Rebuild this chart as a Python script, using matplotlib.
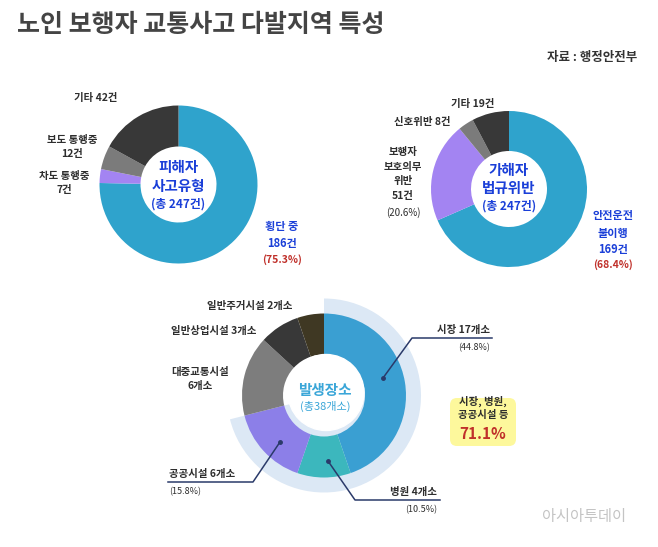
import matplotlib
matplotlib.use("Agg")
import matplotlib.pyplot as plt
from matplotlib.patches import Circle, FancyBboxPatch

plt.rcParams['font.family'] = ['Noto Sans CJK KR', 'DejaVu Sans']

W, H = 658, 547

# --- data ---
victim_labels = ['횡단 중', '차도 통행중', '보도 통행중', '기타']
victim_counts = [186, 7, 12, 42]

driver_labels = ['안전운전 불이행', '보행자 보호의무 위반', '신호위반', '기타']
driver_counts = [169, 51, 8, 19]

place_labels = ['시장', '병원', '공공시설', '대중교통시설', '일반상업시설', '일반주거시설']
place_counts = [17, 4, 6, 6, 3, 2]
place_pcts = [44.8, 10.5, 15.8]

victim_colors = ['#2fa3cc', '#a384f2', '#7b7b7b', '#383838']
driver_colors = ['#2fa3cc', '#a384f2', '#7b7b7b', '#383838']
place_colors = ['#3a9fd2', '#3cb7bd', '#8c7fe8', '#7d7d7d', '#383838', '#3f3823']

DARK = '#2e2e2e'
BLUE = '#1a3fd8'
RED = '#c0302a'
LINE = '#2a3a6a'


def Y(py):
    # pixel row -> data y (data y runs upward)
    return H - py


fig = plt.figure(figsize=(W / 100, H / 100), dpi=100)
ax = fig.add_axes([0, 0, 1, 1])

# title and source
ax.text(17, Y(25), '노인 보행자 교통사고 다발지역 특성', fontsize=18, weight='bold',
        color='#444444', ha='left', va='center')
ax.text(637, Y(58), '자료 : 행정안전부', fontsize=9, weight='bold',
        color='#333333', ha='right', va='center')

lab = dict(fontsize=7.5, weight='bold', color=DARK, ha='center', va='center')

# --- chart 1: victim accident type ---
c1 = (178.5, Y(184.5))
ax.pie(victim_counts, colors=victim_colors, startangle=90, counterclock=False,
       radius=79, center=c1, wedgeprops=dict(width=41, edgecolor='none'))
ax.text(c1[0], Y(167), '피해자', fontsize=10.5, weight='bold', color=BLUE,
        ha='center', va='center')
ax.text(c1[0], Y(186), '사고유형', fontsize=10.5, weight='bold', color=BLUE,
        ha='center', va='center')
ax.text(c1[0], Y(204), '(총 {}건)'.format(sum(victim_counts)), fontsize=8.5,
        weight='bold', color=BLUE, ha='center', va='center')

ax.text(96, Y(98), '기타 {}건'.format(victim_counts[3]), **lab)
ax.text(72, Y(147), '보도 통행중\n{}건'.format(victim_counts[2]), linespacing=1.5, **lab)
ax.text(64, Y(183), '차도 통행중\n{}건'.format(victim_counts[1]), linespacing=1.5, **lab)
ax.text(282, Y(235), '횡단 중\n{}건'.format(victim_counts[0]), fontsize=8,
        weight='bold', color=BLUE, ha='center', va='center', linespacing=1.4)
ax.text(282, Y(260), '({:.1f}%)'.format(100 * victim_counts[0] / sum(victim_counts)),
        fontsize=7.5, weight='bold', color=RED, ha='center', va='center')

# --- chart 2: driver violation ---
c2 = (509, Y(189))
ax.pie(driver_counts, colors=driver_colors, startangle=90, counterclock=False,
       radius=78, center=c2, wedgeprops=dict(width=40, edgecolor='none'))
ax.text(c2[0], Y(170), '가해자', fontsize=10.5, weight='bold', color=BLUE,
        ha='center', va='center')
ax.text(c2[0], Y(188), '법규위반', fontsize=10.5, weight='bold', color=BLUE,
        ha='center', va='center')
ax.text(c2[0], Y(206), '(총 {}건)'.format(sum(driver_counts)), fontsize=8.5,
        weight='bold', color=BLUE, ha='center', va='center')

ax.text(473, Y(104), '기타 {}건'.format(driver_counts[3]), **lab)
ax.text(422, Y(122), '신호위반 {}건'.format(driver_counts[2]), **lab)
ax.text(403, Y(174), '보행자\n보호의무\n위반\n{}건'.format(driver_counts[1]),
        linespacing=1.6, **lab)
ax.text(403, Y(213), '({:.1f}%)'.format(100 * driver_counts[1] / sum(driver_counts)),
        fontsize=7, color=DARK, ha='center', va='center')
ax.text(613, Y(233), '안전운전\n불이행\n{}건'.format(driver_counts[0]), fontsize=8,
        weight='bold', color=BLUE, ha='center', va='center', linespacing=1.4)
ax.text(613, Y(265), '({:.1f}%)'.format(100 * driver_counts[0] / sum(driver_counts)),
        fontsize=7.5, weight='bold', color=RED, ha='center', va='center')

# --- chart 3: place of occurrence ---
c3 = (324, Y(395.5))
top3 = sum(place_counts[:3])
ax.pie([top3, sum(place_counts) - top3], colors=['#dce8f5', 'none'], startangle=90,
       counterclock=False, radius=97, center=c3, wedgeprops=dict(edgecolor='none'))
ax.pie(place_counts, colors=place_colors, startangle=90, counterclock=False,
       radius=82, center=c3, wedgeprops=dict(width=41, edgecolor='none'))
ax.add_patch(Circle((c3[0] + 2, c3[1] + 3), 38, color='white', zorder=3))
ax.text(c3[0] + 1, Y(390), '발생장소', fontsize=10.5, weight='bold', color='#3aa6d8',
        ha='center', va='center', zorder=4)
ax.text(c3[0] + 1, Y(406), '(총{}개소)'.format(sum(place_counts)), fontsize=8,
        color='#3aa6d8', ha='center', va='center', zorder=4)

ax.text(250, Y(306), '{} {}개소'.format(place_labels[5], place_counts[5]), **lab)
ax.text(214, Y(331), '{} {}개소'.format(place_labels[4], place_counts[4]), **lab)
ax.text(200, Y(379), '{}\n{}개소'.format(place_labels[3], place_counts[3]),
        linespacing=1.5, **lab)

# leader lines
ax.plot([383, 412, 492], [Y(378), Y(338), Y(338)], color=LINE, lw=1.1)
ax.plot([383], [Y(378)], 'o', color=LINE, ms=2.5)
ax.text(490, Y(330), '{} {}개소'.format(place_labels[0], place_counts[0]),
        fontsize=7.5, weight='bold', color=DARK, ha='right', va='center')
ax.text(490, Y(348), '({:.1f}%)'.format(place_pcts[0]), fontsize=6.5,
        color=DARK, ha='right', va='center')

ax.plot([328, 355, 440], [Y(461), Y(500), Y(500)], color=LINE, lw=1.1)
ax.plot([328], [Y(461)], 'o', color=LINE, ms=2.5)
ax.text(437, Y(492), '{} {}개소'.format(place_labels[1], place_counts[1]),
        fontsize=7.5, weight='bold', color=DARK, ha='right', va='center')
ax.text(437, Y(510), '({:.1f}%)'.format(place_pcts[1]), fontsize=6.5,
        color=DARK, ha='right', va='center')

ax.plot([280, 253, 168], [Y(442), Y(482), Y(482)], color=LINE, lw=1.1)
ax.plot([280], [Y(442)], 'o', color=LINE, ms=2.5)
ax.text(169, Y(474), '{} {}개소'.format(place_labels[2], place_counts[2]),
        fontsize=7.5, weight='bold', color=DARK, ha='left', va='center')
ax.text(169, Y(492), '({:.1f}%)'.format(place_pcts[2]), fontsize=6.5,
        color=DARK, ha='left', va='center')

# yellow callout
ax.add_patch(FancyBboxPatch((450, Y(446)), 66, 48,
                            boxstyle='round,pad=0,rounding_size=7',
                            fc='#fdf89c', ec='none'))
ax.text(483, Y(408), '시장, 병원,\n공공시설 등', fontsize=7.5, weight='bold',
        color=DARK, ha='center', va='center', linespacing=1.35)
ax.text(483, Y(434), '{:.1f}%'.format(100 * top3 / sum(place_counts)),
        fontsize=11, weight='bold', color=RED, ha='center', va='center')

# watermark
ax.text(584, Y(517), '아시아투데이', fontsize=11, color='#c4c4c4',
        ha='center', va='center')

ax.set_xlim(0, W)
ax.set_ylim(0, H)
ax.set_aspect('equal')
ax.axis('off')

fig.savefig('out.png', dpi=100, facecolor='white')
